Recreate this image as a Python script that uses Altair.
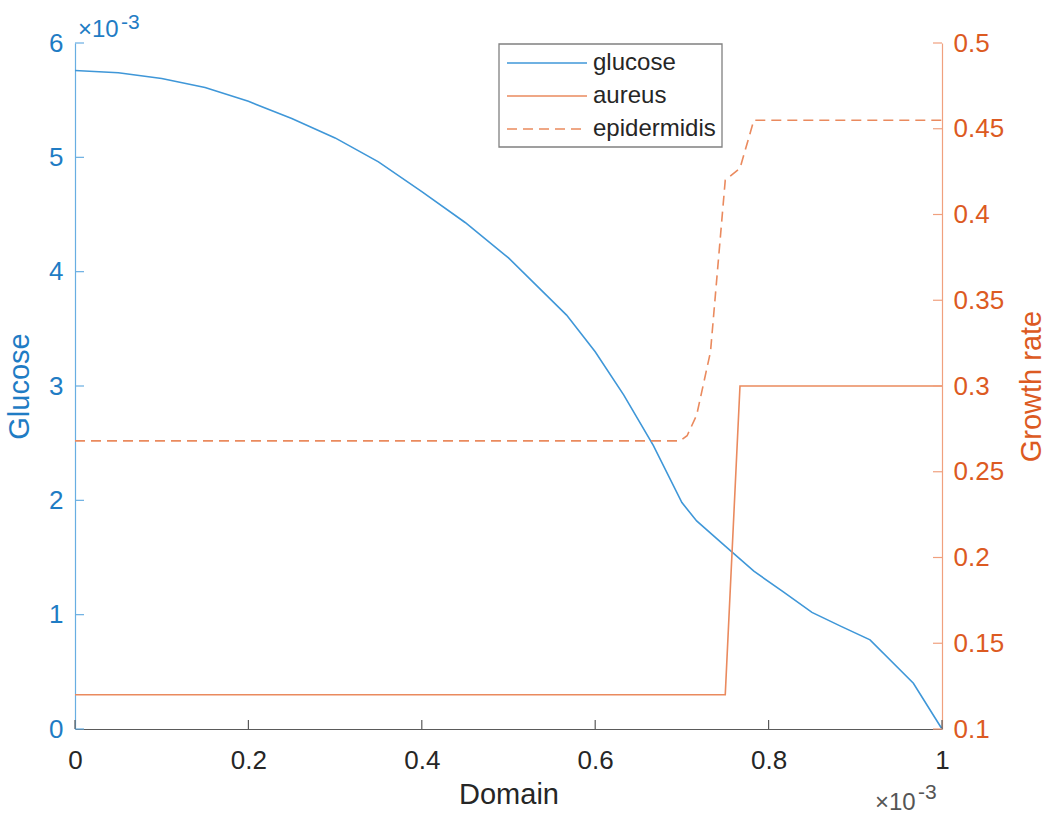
import altair as alt
import pandas as pd

# ---- data (x in units of 1e-3, glucose in units of 1e-3) ----
glu_x = [0, 0.05, 0.1, 0.15, 0.2, 0.25, 0.3, 0.35, 0.4, 0.45, 0.5, 0.567, 0.6, 0.633, 0.667, 0.7, 0.717, 0.75, 0.783, 0.817, 0.85, 0.883, 0.917, 0.967, 1.0]
glu_y = [5.76, 5.74, 5.69, 5.61, 5.49, 5.34, 5.17, 4.96, 4.70, 4.43, 4.12, 3.62, 3.30, 2.92, 2.48, 1.98, 1.82, 1.60, 1.38, 1.20, 1.02, 0.90, 0.78, 0.40, 0.0]

aur_x = [0, 0.75, 0.767, 1.0]
aur_y = [0.12, 0.12, 0.30, 0.30]

epi_x = [0, 0.698, 0.706, 0.717, 0.733, 0.75, 0.767, 0.783, 1.0]
epi_y = [0.268, 0.268, 0.271, 0.283, 0.32, 0.42, 0.427, 0.455, 0.455]

series = ["glucose", "aureus", "epidermidis"]
x_ticks = [0, 0.2, 0.4, 0.6, 0.8, 1.0]
left_ticks = [0, 1, 2, 3, 4, 5, 6]
right_ticks = [0.1, 0.15, 0.2, 0.25, 0.3, 0.35, 0.4, 0.45, 0.5]

BLUE_LINE = "#3f97d8"
BLUE_TEXT = "#1f7cc4"
BLUE_AXIS = "#68aee2"
OR_LINE = "#ea8a5e"
OR_TEXT = "#dc5a22"
OR_AXIS = "#f0a07e"
GRAY = "#262626"
FONT = "Liberation Sans"

W, H = 867, 686
TICK_FS = 26
TITLE_FS = 29

xenc = alt.X("x:Q", scale=alt.Scale(domain=[0, 1], nice=False),
             axis=alt.Axis(values=x_ticks, format="~g", title="Domain", grid=False, ticks=False,
                           labelFlush=False, labelFontSize=TICK_FS, labelColor=GRAY, labelPadding=18,
                           domainColor="#5a5a5a", domainWidth=1.2,
                           titleFontSize=TITLE_FS, titleFontWeight="normal", titleColor=GRAY, titlePadding=7))
yleft = alt.Y("y:Q", scale=alt.Scale(domain=[0, 6], nice=False, zero=True),
              axis=alt.Axis(values=left_ticks, title="Glucose", grid=False, ticks=False,
                            labelFlush=False, labelFontSize=TICK_FS, labelColor=BLUE_TEXT, labelPadding=12,
                            domainColor=BLUE_AXIS, domainWidth=1.2,
                            titleFontSize=TITLE_FS, titleFontWeight="normal", titleColor=BLUE_TEXT, titlePadding=14))
yright = alt.Y("g:Q", scale=alt.Scale(domain=[0.1, 0.5], nice=False, zero=False),
               axis=alt.Axis(orient="right", values=right_ticks, format="~g", title="Growth rate",
                             grid=False, ticks=False, labelFlush=False,
                             labelFontSize=TICK_FS, labelColor=OR_TEXT, labelPadding=11,
                             domainColor=OR_AXIS, domainWidth=1.2,
                             titleAngle=270, titleBaseline="top",
                             titleFontSize=TITLE_FS, titleFontWeight="normal", titleColor=OR_TEXT, titlePadding=14))

glu_df = pd.DataFrame({"x": glu_x, "y": glu_y})
aur_df = pd.DataFrame({"x": aur_x, "g": aur_y})
epi_df = pd.DataFrame({"x": epi_x, "g": epi_y})

glu = alt.Chart(glu_df).mark_line(color=BLUE_LINE, strokeWidth=1.6).encode(x=xenc, y=yleft)
lt = alt.Chart(pd.DataFrame({"y": left_ticks})).mark_rule(color=BLUE_AXIS, strokeWidth=1.2).encode(
    y=yleft, x=alt.value(0), x2=alt.value(9))
xt = alt.Chart(pd.DataFrame({"x": x_ticks})).mark_rule(color="#5a5a5a", strokeWidth=1.2).encode(
    x=xenc, y=alt.value(H), y2=alt.value(H - 9))

one = pd.DataFrame({"a": [0]})
def txt(s, x, y, size, color, align="left"):
    return alt.Chart(one).mark_text(text=s, align=align, baseline="alphabetic", fontSize=size,
                                    color=color, font=FONT).encode(x=alt.value(x), y=alt.value(y))

ann = [
    txt("×10", 3, -6, 24, BLUE_TEXT), txt("-3", 46, -14, 21, BLUE_TEXT),
    txt("×10", 800, 767, 24, "#555555"), txt("-3", 843, 756, 21, "#555555"),
]

# legend (drawn manually)
leg = [alt.Chart(one).mark_rect(fill="white", stroke="#808080", strokeWidth=1.3).encode(
    x=alt.value(424), x2=alt.value(647), y=alt.value(1), y2=alt.value(104))]
styles = {"glucose": (BLUE_LINE, []), "aureus": (OR_LINE, []), "epidermidis": (OR_LINE, [10, 6])}
for i, s in enumerate(series):
    col, dash = styles[s]
    yy = 20 + 33 * i
    kw = dict(color=col, strokeWidth=1.6)
    if dash:
        kw["strokeDash"] = dash
    leg.append(alt.Chart(one).mark_rule(**kw).encode(x=alt.value(432), x2=alt.value(512), y=alt.value(yy)))
    leg.append(alt.Chart(one).mark_text(text=s, align="left", baseline="middle", fontSize=24,
                                        color=GRAY, font=FONT).encode(x=alt.value(518), y=alt.value(yy)))

aur = alt.Chart(aur_df).mark_line(color=OR_LINE, strokeWidth=1.6).encode(x=xenc, y=yright)
epi = alt.Chart(epi_df).mark_line(color=OR_LINE, strokeWidth=1.6, strokeDash=[10, 6]).encode(x=xenc, y=yright)
rt = alt.Chart(pd.DataFrame({"g": right_ticks})).mark_rule(color=OR_AXIS, strokeWidth=1.2).encode(
    y=yright, x=alt.value(W - 9), x2=alt.value(W))

left_layer = alt.layer(glu, lt, xt)
right_layer = alt.layer(aur, epi, rt)
top = alt.layer(*leg, *ann)

chart = alt.layer(left_layer, right_layer, top).resolve_scale(y="independent").properties(
    width=W, height=H,
    autosize=alt.AutoSizeParams(type="none"),
    padding={"left": 75, "top": 43, "right": 109, "bottom": 85},
).configure_view(stroke=None).configure_axis(labelFont=FONT, titleFont=FONT)

chart.save("out.html", embed_options={"renderer": "svg", "actions": False})
